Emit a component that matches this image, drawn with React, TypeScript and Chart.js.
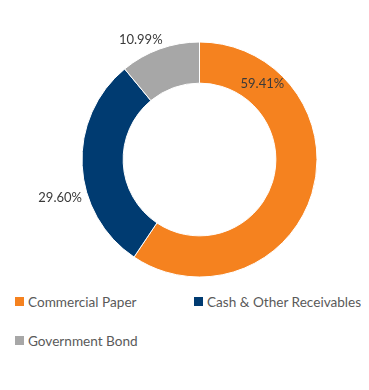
import React, { useEffect, useRef } from "react";
import { Chart, registerables } from "chart.js";

Chart.register(...registerables);

const categories = ["Commercial Paper", "Cash & Other Receivables", "Government Bond"];
const values = [59.41, 29.6, 10.99];
const colors = ["#F5821F", "#003B71", "#A7A7A7"];
const valueLabels = ["59.41%", "29.60%", "10.99%"];
// label placement: fraction along slice angle, radius factor of outer radius
const labelAngleFrac = [0.186, 0.384, 0.338];
const labelRadiusFactor = [0.836, 1.229, 1.133];

const labelPlugin = {
  id: "sliceLabels",
  afterDatasetsDraw(chart: any) {
    const ctx = chart.ctx;
    const meta = chart.getDatasetMeta(0);
    ctx.save();
    ctx.font = "13px Lato";
    ctx.fillStyle = "#3a3a3a";
    ctx.textAlign = "center";
    ctx.textBaseline = "middle";
    meta.data.forEach((arc: any, i: number) => {
      const { startAngle, endAngle, outerRadius, x, y } = arc.getProps(
        ["startAngle", "endAngle", "outerRadius", "x", "y"],
        true
      );
      const a = startAngle + labelAngleFrac[i] * (endAngle - startAngle);
      const r = outerRadius * labelRadiusFactor[i];
      ctx.fillText(valueLabels[i], x + Math.cos(a) * r, y + Math.sin(a) * r);
    });
    ctx.restore();
  },
};

const legendPos = [
  { left: 7, top: 284.5 },
  { left: 186, top: 284.5 },
  { left: 7, top: 323.5 },
];

export default function App() {
  const ref = useRef<HTMLCanvasElement | null>(null);
  useEffect(() => {
    if (!ref.current) return;
    const chart = new Chart(ref.current, {
      type: "doughnut",
      data: {
        labels: categories,
        datasets: [
          {
            data: values,
            backgroundColor: colors,
            borderColor: "#ffffff",
            borderWidth: 1,
          },
        ],
      },
      options: {
        animation: false,
        responsive: true,
        maintainAspectRatio: false,
        cutout: "65%",
        layout: { padding: { left: 73.5, right: 43.5, top: 33.5, bottom: 10.5 } },
        plugins: {
          legend: { display: false },
          tooltip: { enabled: false },
        },
      },
      plugins: [labelPlugin],
    });
    return () => chart.destroy();
  }, []);

  return (
    <div style={{ position: "relative", width: 353, height: 370, fontFamily: "Lato" }}>
      <div style={{ position: "absolute", left: 0, top: 0, width: 353, height: 280 }}>
        <canvas ref={ref} />
      </div>
      {categories.map((c, i) => (
        <div
          key={c}
          style={{
            position: "absolute",
            left: legendPos[i].left,
            top: legendPos[i].top,
            display: "flex",
            alignItems: "center",
            height: 18,
            width: 170,
          }}
        >
          <span
            style={{
              display: "inline-block",
              flex: "none",
              width: 9,
              height: 9,
              background: colors[i],
              marginRight: 4,
            }}
          />
          <span
            style={{
              fontSize: 13.6,
              lineHeight: "18px",
              color: "#5a5a5a",
              whiteSpace: "nowrap",
            }}
          >
            {c}
          </span>
        </div>
      ))}
    </div>
  );
}
